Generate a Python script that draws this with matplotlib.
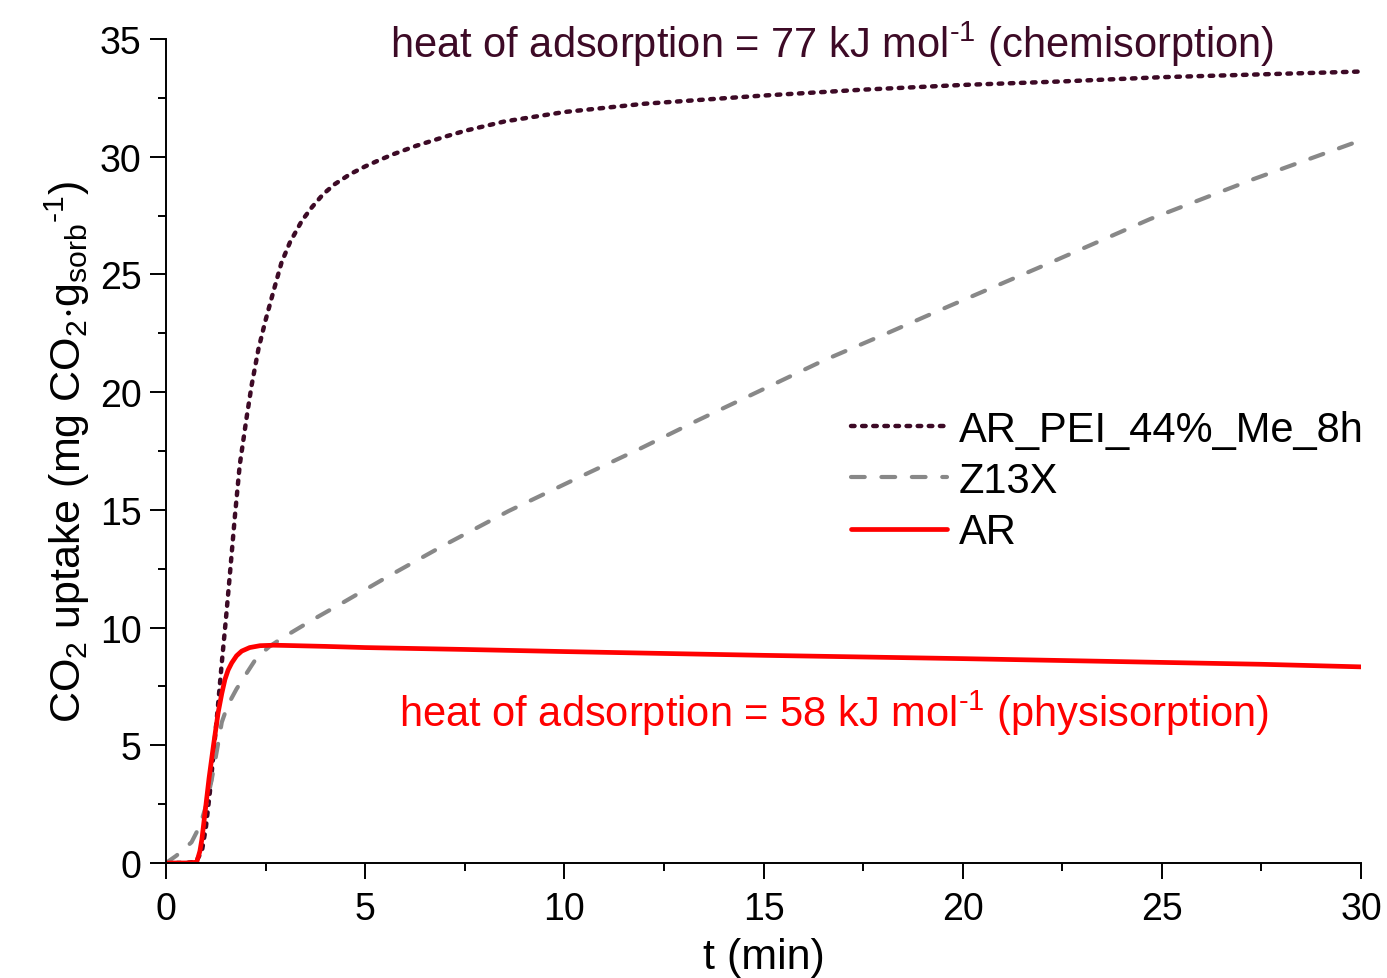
import matplotlib
matplotlib.use("Agg")
import matplotlib.pyplot as plt
from matplotlib.ticker import MultipleLocator

plt.rcParams['font.family'] = ['Liberation Sans', 'DejaVu Sans']
plt.rcParams['mathtext.fontset'] = 'custom'
plt.rcParams['mathtext.rm'] = 'Liberation Sans'
plt.rcParams['mathtext.it'] = 'Liberation Sans'

# AR_PEI_44%_Me_8h uptake curve
t_pei = [0, 0.5, 0.75, 0.9, 1.0, 1.1, 1.2, 1.3, 1.4, 1.5, 1.6, 1.73, 1.85, 2.03,
         2.15, 2.32, 2.49, 2.69, 2.9, 3.11, 3.41, 3.66, 3.95, 4.24, 4.62, 5.0, 5.37,
         5.71, 6.29, 7.0, 7.5, 8.5, 10, 12, 15, 17.5, 20, 22.5, 25, 27.5, 30]
q_pei = [0, 0, 0.05, 0.5, 1.5, 3.0, 4.8, 6.6, 8.5, 10.3, 12.2, 14.75, 16.9, 19.0,
         20.3, 21.83, 23.0, 24.24, 25.51, 26.36, 27.28, 27.85, 28.42, 28.84, 29.26, 29.59, 29.87,
         30.11, 30.47, 30.85, 31.1, 31.5, 31.9, 32.25, 32.6, 32.85, 33.05, 33.2, 33.38, 33.5, 33.62]

# Z13X uptake curve
t_z13x = [0, 0.26, 0.64, 0.85, 1.0, 1.15, 1.28, 1.4, 1.55, 1.77, 2.0, 2.28, 2.6, 2.95,
          3.7, 4.45, 5.5, 6.96, 8.6, 10.39, 11.9, 13.32, 14.9, 16.5, 18.1, 19.68,
          22.2, 24.7, 27.3, 30]
q_z13x = [0, 0.31, 0.88, 1.58, 2.4, 3.57, 4.8, 5.98, 6.7, 7.39, 8.0, 8.73, 9.2, 9.59,
          10.35, 11.07, 12.1, 13.48, 14.95, 16.4, 17.6, 18.78, 20.05, 21.34, 22.5, 23.67,
          25.5, 27.35, 29.05, 30.7]

# AR uptake curve
t_ar = [0, 0.5, 0.77, 0.85, 0.9, 0.98, 1.08, 1.19, 1.31, 1.4, 1.48, 1.56, 1.65, 1.77,
        1.9, 2.1, 2.36, 2.7, 3.0, 4, 5, 7.5, 10, 12.5, 15, 17.5, 20, 22.5, 25, 27.5, 30]
q_ar = [0, 0, 0.03, 0.5, 1.0, 2.15, 3.6, 4.98, 6.4, 7.2, 7.8, 8.2, 8.5, 8.8,
        9.0, 9.15, 9.23, 9.25, 9.24, 9.2, 9.15, 9.07, 8.98, 8.9, 8.82, 8.75, 8.68, 8.6,
        8.52, 8.44, 8.33]

dark = '#3d0a26'
grey = '#888888'
red = '#ff0000'

fig = plt.figure(figsize=(13.87, 9.79), dpi=100)
ax = fig.add_axes([0.1197, 0.1175, 0.8616, 0.8416])

ax.plot(t_pei, q_pei, color=dark, lw=3.2, linestyle=(0, (0.8, 1.7)),
        dash_capstyle='round', label='AR_PEI_44%_Me_8h')
ax.plot(t_z13x, q_z13x, color=grey, lw=3.0, linestyle=(0, (3.3, 4.0)),
        dash_capstyle='round', label='Z13X')
ax.plot(t_ar, q_ar, color=red, lw=3.4, solid_capstyle='round', label='AR')

ax.set_xlim(0, 30)
ax.set_ylim(0, 35)
ax.xaxis.set_major_locator(MultipleLocator(5))
ax.xaxis.set_minor_locator(MultipleLocator(2.5))
ax.yaxis.set_major_locator(MultipleLocator(5))
ax.yaxis.set_minor_locator(MultipleLocator(2.5))
ax.tick_params(which='major', direction='out', length=11.5, width=1.4)
ax.tick_params(which='minor', direction='out', length=6, width=1.4)
ax.tick_params(axis='y', labelsize=27, pad=6)
ax.tick_params(axis='x', labelsize=27, pad=9)
for side in ('top', 'right'):
    ax.spines[side].set_visible(False)
for side in ('left', 'bottom'):
    ax.spines[side].set_linewidth(1.4)

ax.set_xlabel('t (min)', fontsize=31, labelpad=7)
ax.set_ylabel('CO$_2$ uptake (mg CO$_2$$\\cdot$g$_{\\rm sorb}$$^{\u20101}$)',
              fontsize=31, labelpad=6)

ax.text(0.557, 0.995, 'heat of adsorption = 77 kJ mol$^{\u20101}$ (chemisorption)',
        transform=ax.transAxes, ha='center', va='center', fontsize=30, color=dark)
ax.text(0.559, 0.183, 'heat of adsorption = 58 kJ mol$^{\u20101}$ (physisorption)',
        transform=ax.transAxes, ha='center', va='center', fontsize=30, color=red)

ax.legend(loc='upper left', bbox_to_anchor=(0.573, 0.55), frameon=False, fontsize=30,
          handlelength=2.3, handletextpad=0.3, labelspacing=0.27, borderaxespad=0,
          borderpad=0)

fig.savefig('out.png', dpi=100)
